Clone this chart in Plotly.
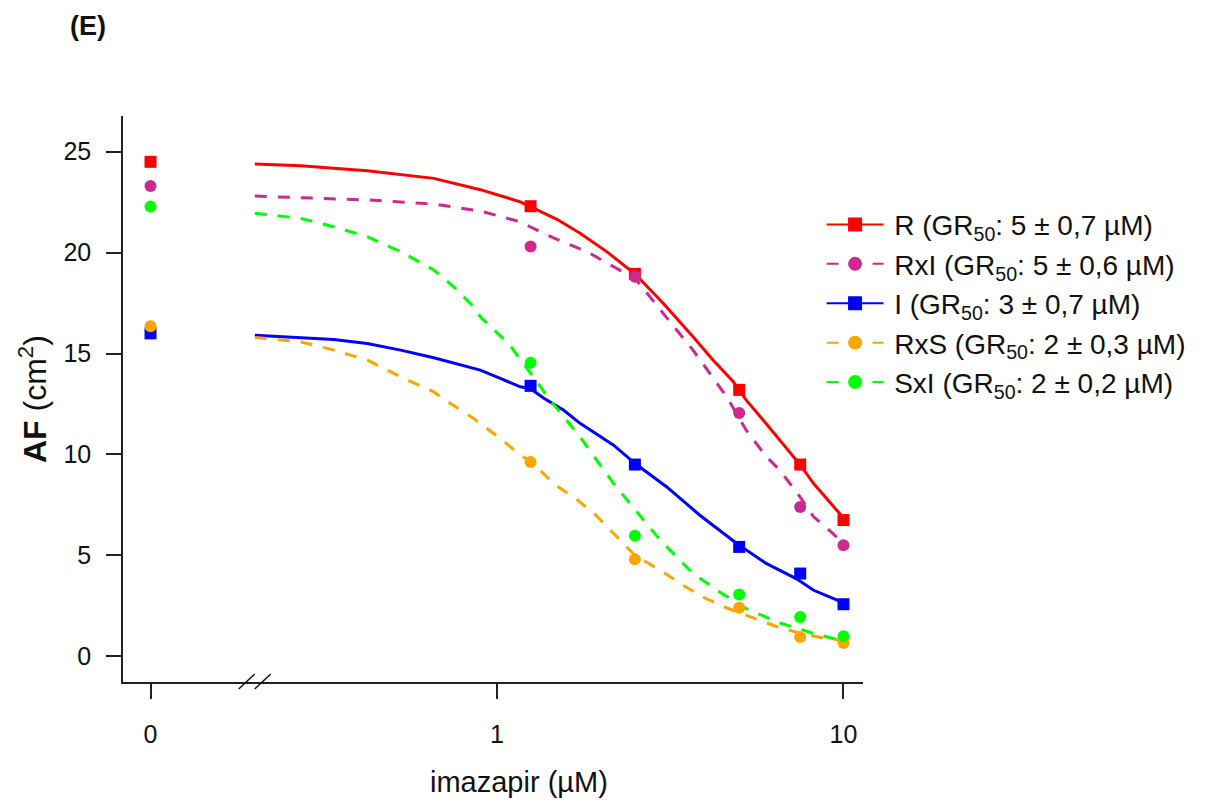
import plotly.graph_objects as go

# ---------------- data ----------------
DOSES = [0, 1.25, 2.5, 5, 7.5, 10]
ZERO_POS = 0.1          # where dose 0 is drawn on the log axis
X_TICKVALS = [0.1, 1, 10]
X_TICKTEXT = ["0", "1", "10"]
Y_TICKVALS = [0, 5, 10, 15, 20, 25]

NAMES = ["R", "RxI", "I", "RxS", "SxI"]
GR50 = ["5 ± 0,7", "5 ± 0,6", "3 ± 0,7", "2 ± 0,3", "2 ± 0,2"]

R_pts = [24.5, 22.3, 18.95, 13.2, 9.5, 6.75]
RxI_pts = [23.3, 20.3, 18.8, 12.05, 7.4, 5.5]
I_pts = [16.0, 13.4, 9.5, 5.42, 4.1, 2.58]
RxS_pts = [16.35, 9.63, 4.81, 2.41, 0.96, 0.66]
SxI_pts = [22.28, 14.54, 5.97, 3.06, 1.95, 0.99]

# fitted curves
R_cx = [0.2, 0.271, 0.422, 0.657, 0.895, 1.167, 1.247, 1.489, 1.737, 2.072, 2.504,
        3.017, 3.68, 4.2, 4.81, 5.24, 5.87, 7.49, 8.2, 9.85, 10]
R_cy = [24.39, 24.31, 24.06, 23.68, 23.12, 22.52, 22.28, 21.65, 20.96, 20.05, 18.94,
        17.49, 15.83, 14.68, 13.6, 12.69, 11.7, 9.5, 8.56, 6.99, 6.85]

RxI_cx = [0.2, 0.422, 0.657, 0.9, 1.117, 1.167, 1.393, 1.817, 2.17, 2.504, 3.017,
          3.68, 4.6, 5.24, 5.98, 6.55, 7.49, 8.2, 9.33, 10]
RxI_cy = [22.8, 22.61, 22.41, 22.05, 21.62, 21.53, 20.87, 20.05, 19.3, 18.73, 16.99,
          15.17, 12.86, 11.2, 9.9, 9.22, 7.9, 6.91, 6.08, 5.55]

I_cx = [0.2, 0.338, 0.422, 0.527, 0.657, 0.819, 0.895, 1.022, 1.167, 1.247, 1.362,
        1.555, 1.737, 2.17, 2.504, 3.09, 3.85, 4.92, 5.98, 7.3, 8.2, 9.9, 10]
I_cy = [15.91, 15.70, 15.5, 15.17, 14.79, 14.34, 14.18, 13.77, 13.35, 13.27, 12.8,
        12.2, 11.54, 10.46, 9.55, 8.39, 6.99, 5.59, 4.6, 3.85, 3.27, 2.69, 2.62]

RxS_cx = [0.2, 0.271, 0.338, 0.422, 0.527, 0.657, 0.734, 0.856, 0.978, 1.022, 1.167,
          1.26, 1.45, 1.71, 1.93, 2.27, 2.5, 2.96, 3.44, 3.93, 4.63, 5.44, 6.37,
          7.49, 8.8, 10]
RxS_cy = [15.8, 15.58, 15.17, 14.68, 13.85, 13.1, 12.53, 11.78, 11.04, 10.8, 9.97,
          9.63, 8.58, 7.73, 6.99, 5.75, 5.0, 4.26, 3.52, 2.93, 2.38, 1.93, 1.49,
          1.14, 0.89, 0.79]

SxI_cx = [0.2, 0.271, 0.338, 0.422, 0.527, 0.657, 0.75, 0.856, 0.895, 0.978, 1.092,
          1.167, 1.26, 1.424, 1.737, 2.17, 2.504, 2.96, 3.68, 4.39, 5.24, 6.55, 8.2,
          9.33, 10]
SxI_cy = [21.95, 21.7, 21.28, 20.79, 20.05, 19.14, 18.31, 17.32, 16.82, 16.2, 15.4,
          14.7, 13.95, 12.69, 10.87, 8.56, 7.24, 5.75, 4.1, 3.19, 2.36, 1.65, 1.13,
          0.88, 0.8]

POINTS = [R_pts, RxI_pts, I_pts, RxS_pts, SxI_pts]
CURVES_X = [R_cx, RxI_cx, I_cx, RxS_cx, SxI_cx]
CURVES_Y = [R_cy, RxI_cy, I_cy, RxS_cy, SxI_cy]

# ---------------- styles ----------------
COLORS = ["#FF0000", "#CD2990", "#0000FF", "#FFA500", "#00FF00"]
SYMBOLS = ["square", "circle", "square", "circle", "circle"]
DASHES = ["solid", "12px,11px", "solid", "12px,11px", "12px,11px"]
FONT = "Liberation Sans, Arial, sans-serif"

x_pos = [ZERO_POS if d == 0 else d for d in DOSES]

fig = go.Figure()
for cx, cy, col, dash in zip(CURVES_X, CURVES_Y, COLORS, DASHES):
    fig.add_trace(go.Scatter(x=cx, y=cy, mode="lines", showlegend=False,
                             line=dict(color=col, width=3, dash=dash),
                             hoverinfo="skip"))
for pts, col, sym in zip(POINTS, COLORS, SYMBOLS):
    fig.add_trace(go.Scatter(x=x_pos, y=pts, mode="markers", showlegend=False,
                             marker=dict(color=col, symbol=sym, size=12,
                                         line=dict(width=0))))
for name, gr, col, sym, dash in zip(NAMES, GR50, COLORS, SYMBOLS, DASHES):
    fig.add_trace(go.Scatter(x=[None], y=[None], mode="lines+markers",
                             name=f"\u2009{name} (GR<sub>50</sub>: {gr} µM)",
                             line=dict(color=col, width=2, dash=dash),
                             marker=dict(color=col, symbol=sym, size=14,
                                         line=dict(width=0))))

axis_common = dict(showline=True, linecolor="#222", linewidth=1.5, ticks="outside",
                   ticklen=15, tickwidth=1.5, tickcolor="#222", showgrid=False,
                   zeroline=False, tickfont=dict(family=FONT, size=25, color="#111"))

fig.update_xaxes(type="log", range=[-1.0794, 1.0563], tickvals=X_TICKVALS,
                 ticktext=X_TICKTEXT, ticklabelstandoff=14, **axis_common)
fig.update_yaxes(range=[-1.274, 26.77], tickvals=Y_TICKVALS, ticklabelstandoff=10,
                 **axis_common)

# axis break marks
for x0 in (-16, 0):
    fig.add_shape(type="line", xref="paper", yref="paper", xsizemode="pixel",
                  ysizemode="pixel", xanchor=0.178, yanchor=0, x0=x0, x1=x0 + 16,
                  y0=-7, y1=8, line=dict(color="#111", width=1.5))

fig.add_annotation(text="<b>(E)</b>", xref="paper", yref="paper", x=-0.075,
                   y=1.0, xanchor="left", yanchor="middle", showarrow=False,
                   yshift=116 - 26, font=dict(family=FONT, size=27, color="#111"))
fig.add_annotation(text="<b>AF</b> (cm<sup>2</sup>)", textangle=-90, xref="paper",
                   yref="paper", x=0, y=0.5, xanchor="center", yanchor="middle",
                   xshift=-90, showarrow=False,
                   font=dict(family=FONT, size=32, color="#111"))
fig.add_annotation(text="imazapir (µM)", xref="paper", yref="paper", x=0.535,
                   y=0, xanchor="center", yanchor="middle", yshift=-100,
                   showarrow=False, font=dict(family=FONT, size=29, color="#111"))

fig.update_layout(
    width=1210, height=805,
    margin=dict(l=123, r=347, t=116, b=123),
    paper_bgcolor="white", plot_bgcolor="white",
    font=dict(family=FONT, color="#111"),
    legend=dict(x=0.944, y=0.852, xanchor="left", yanchor="top",
                font=dict(family=FONT, size=28, color="#111"),
                itemwidth=57, bgcolor="rgba(0,0,0,0)", tracegroupgap=0),
)

fig.write_html("out.html")
